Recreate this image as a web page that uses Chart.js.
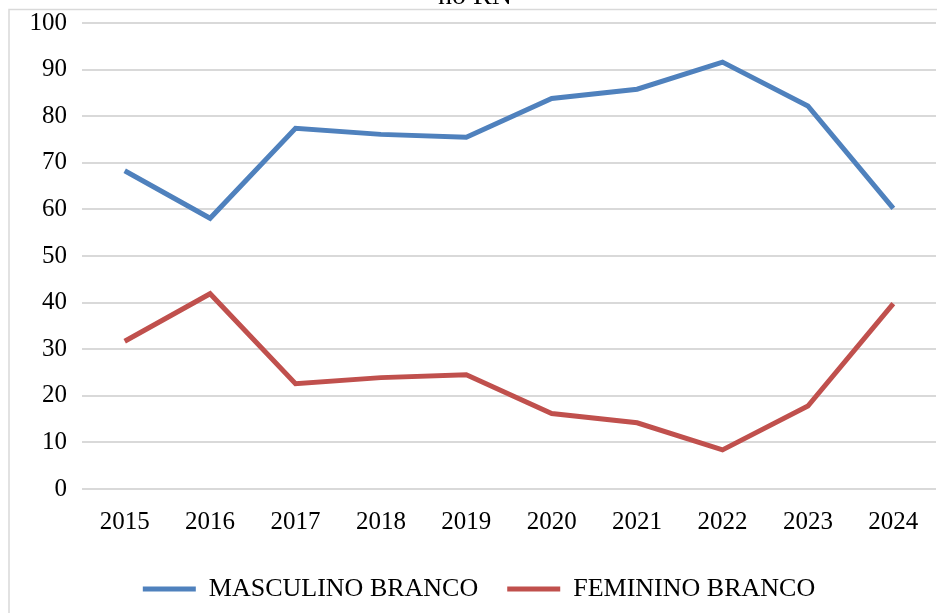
<!DOCTYPE html>
<html>
<head>
<meta charset="utf-8">
<script src="https://cdn.jsdelivr.net/npm/chart.js@4/dist/chart.umd.min.js"></script>
<style>
  html, body { margin: 0; padding: 0; background: #ffffff; overflow: hidden; }
  #wrap { width: 937px; height: 613px; position: relative; }
</style>
</head>
<body>
<div id="wrap"><canvas id="c" width="937" height="613"></canvas></div>
<script>
const categories = ['2015', '2016', '2017', '2018', '2019', '2020', '2021', '2022', '2023', '2024'];
const masculinoBranco = [68.3, 58.1, 77.4, 76.1, 75.5, 83.8, 85.8, 91.6, 82.2, 60.2];
const femininoBranco = [31.7, 41.9, 22.6, 23.9, 24.5, 16.2, 14.2, 8.4, 17.8, 39.8];
const seriesNames = ['MASCULINO BRANCO', 'FEMININO BRANCO'];
const titleText = 'no RN';
const yMin = 0, yMax = 100, yStep = 10;

const FONT = '"Liberation Serif", "Times New Roman", serif';

const framePlugin = {
  id: 'frame',
  beforeDraw(chart) {
    const ctx = chart.ctx;
    ctx.save();
    ctx.fillStyle = '#ffffff';
    ctx.fillRect(0, 0, chart.width, chart.height);
    ctx.strokeStyle = '#d9d9d9';
    ctx.lineWidth = 1.5;
    ctx.strokeRect(9, 9.5, 1200, 1200);
    ctx.fillStyle = '#000000';
    ctx.font = '28px ' + FONT;
    ctx.textAlign = 'center';
    ctx.textBaseline = 'alphabetic';
    ctx.fillText(titleText, 475, 3.5);
    ctx.restore();
  }
};

new Chart(document.getElementById('c'), {
  type: 'line',
  data: {
    labels: categories,
    datasets: [
      {
        label: seriesNames[0],
        data: masculinoBranco,
        borderColor: '#4F81BD',
        backgroundColor: '#4F81BD',
        borderWidth: 5,
        pointRadius: 0,
        tension: 0,
        fill: false
      },
      {
        label: seriesNames[1],
        data: femininoBranco,
        borderColor: '#C0504D',
        backgroundColor: '#C0504D',
        borderWidth: 5,
        pointRadius: 0,
        tension: 0,
        fill: false
      }
    ]
  },
  options: {
    responsive: false,
    animation: false,
    devicePixelRatio: 1,
    layout: { padding: { top: 23, left: 22, right: 1, bottom: 1 } },
    plugins: {
      title: { display: false },
      tooltip: { enabled: false },
      legend: {
        display: true,
        position: 'bottom',
        align: 'center',
        labels: {
          usePointStyle: true,
          pointStyle: 'line',
          pointStyleWidth: 53,
          padding: 29,
          color: '#000000',
          font: { family: FONT, size: 26 }
        }
      }
    },
    scales: {
      x: {
        offset: true,
        grid: { display: false, drawTicks: false },
        border: { display: false },
        ticks: {
          color: '#000000',
          font: { family: FONT, size: 25 },
          padding: 18,
          maxRotation: 0,
          autoSkip: false
        },
        afterFit(scale) { scale.height = 58; scale.paddingLeft = 0; scale.paddingRight = 0; }
      },
      y: {
        min: yMin,
        max: yMax,
        grid: { color: '#d9d9d9', lineWidth: 2, drawTicks: false, tickLength: 0 },
        border: { display: false },
        ticks: {
          stepSize: yStep,
          color: '#000000',
          font: { family: FONT, size: 25 },
          padding: 15
        },
        afterFit(scale) { scale.width = 60; scale.paddingTop = 0; scale.paddingBottom = 0; }
      }
    }
  },
  plugins: [framePlugin]
});
</script>
</body>
</html>
